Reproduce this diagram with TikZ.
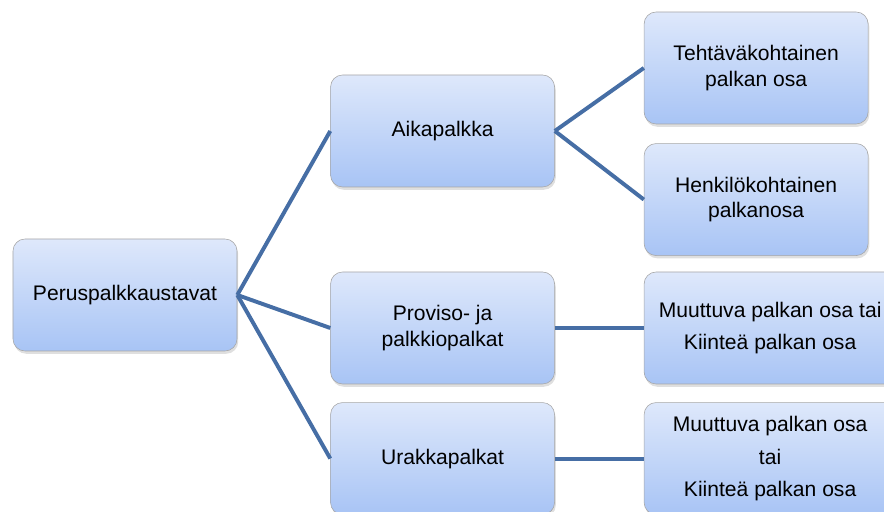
\documentclass[tikz,border=0pt]{standalone}
\usepackage{fontspec}
\setmainfont{Liberation Sans}
\usetikzlibrary{positioning, shadows}
\definecolor{linkblue}{RGB}{70,110,165}
\definecolor{boxtop}{RGB}{222,232,251}
\definecolor{boxbottom}{RGB}{168,196,245}
\tikzstyle{level} = [rectangle, rounded corners=0.3cm, minimum width=5.6cm, minimum height=2.8cm, text centered, align=center, draw=gray!70, top color=boxtop, bottom color=boxbottom, drop shadow={opacity=0.25, shadow xshift=0.03cm, shadow yshift=-0.07cm}, font=\fontsize{15}{18}\selectfont]
\tikzstyle{wide} = [level, minimum width=6.3cm]
\tikzstyle{link} = [line width=2.8pt, draw=linkblue]

\begin{document}
\begin{tikzpicture}
        \useasboundingbox (0,0) rectangle (22.1,12.8);
        % Nodes
        \node (perus) [level] at (3.125,5.425) {Peruspalkkaustavat};
        \node (aika) [level, right=2.325cm of perus, yshift=4.1cm] {Aikapalkka};
        \node (proviso) [level, right=2.325cm of perus, yshift=-0.825cm] {Proviso- ja\\palkkiopalkat};
        \node (urakka) [level, below=0.45cm of proviso] {Urakkapalkat};
        \node (tehtava) [level, right=2.225cm of aika, yshift=1.575cm] {Tehtäväkohtainen\\palkan osa};
        \node (henkilo) [level, below=0.475cm of tehtava] {Henkilökohtainen\\palkanosa};
        \node (muuttuva) [wide, right=2.225cm of proviso] {Muuttuva palkan osa tai\\[5pt]Kiinteä palkan osa};
        \node (muuttuvab) [wide, right=2.225cm of urakka] {Muuttuva palkan osa\\[5pt]tai\\[5pt]Kiinteä palkan osa};

        % Links
        \draw [link] (perus.east) -- (aika.west);
        \draw [link] (perus.east) -- (proviso.west);
        \draw [link] (perus.east) -- (urakka.west);
        \draw [link] (aika.east) -- (tehtava.west);
        \draw [link] (aika.east) -- (henkilo.west);
        \draw [link] (proviso.east) -- (muuttuva.west);
        \draw [link] (urakka.east) -- (muuttuvab.west);
    \end{tikzpicture}
\end{document}
